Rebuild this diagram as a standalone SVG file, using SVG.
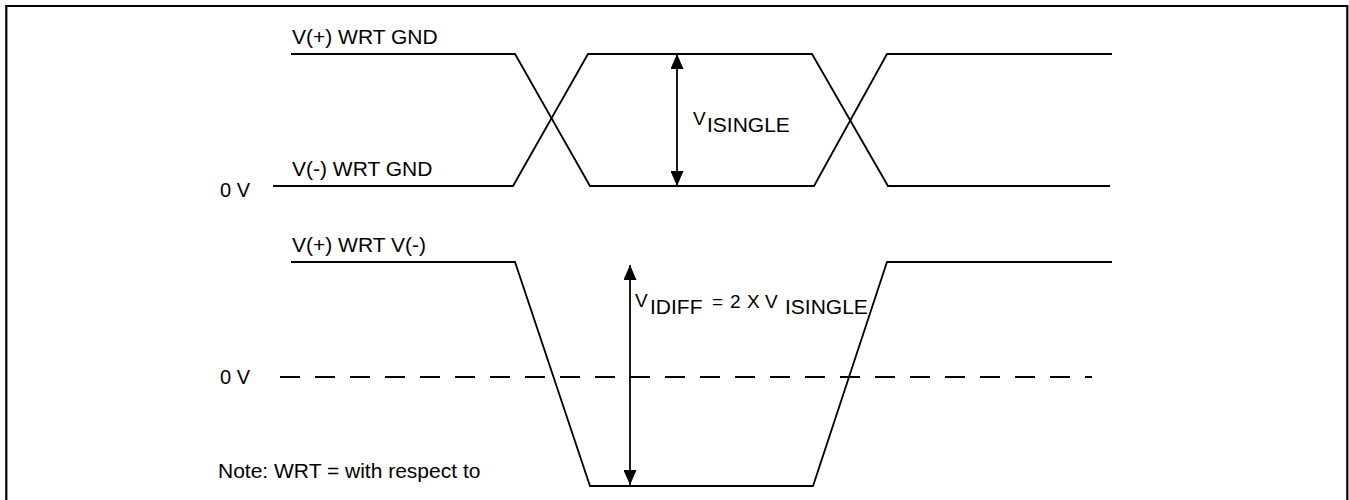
<svg xmlns="http://www.w3.org/2000/svg" width="1349" height="500" viewBox="0 0 1349 500">
<style>
.w{fill:none;stroke:#000;stroke-width:1.8;stroke-linejoin:miter}
.t{font-family:"Liberation Sans",Arial,sans-serif;fill:#000;font-size:21px}
.dash{fill:none;stroke:#000;stroke-width:1.8;stroke-dasharray:20 15}
.arr{fill:none;stroke:#000;stroke-width:1.8;marker-start:url(#ah);marker-end:url(#ah)}
</style>
<defs>
<marker id="ah" viewBox="0 0 15 13" refX="15" refY="6.5" markerWidth="15" markerHeight="13" markerUnits="userSpaceOnUse" orient="auto-start-reverse">
<path d="M0,0 L15,6.5 L0,13 Z" fill="#000"/>
</marker>
</defs>
<rect width="1349" height="500" fill="#fff"/>
<path d="M6.3,500 V6 H1347.3 V500" fill="none" stroke="#000" stroke-width="2.2"/>

<g id="vplus-gnd">
<path class="w" d="M291,54 H515 L590,186 H814 L887,54 H1112"/>
<text class="t" x="292" y="44">V(+) WRT GND</text>
</g>
<g id="vminus-gnd">
<path class="w" d="M273,186 H513 L588,54 H812 L888,186 H1110"/>
<text class="t" x="292" y="176">V(-) WRT GND</text>
<text class="t" x="220" y="197" style="font-size:20px">0 V</text>
</g>
<g id="visingle-label">
<text class="t" x="693" y="125" style="font-size:19px">V</text>
<text class="t" x="707" y="132">ISINGLE</text>
</g>

<g id="vdiff">
<path class="w" d="M291,262 H515 L590,486 H813 L887,262 H1112"/>
<text class="t" x="292" y="252">V(+) WRT V(-)</text>
</g>
<g id="zero-line">
<path class="dash" d="M280,377 H1092"/>
<text class="t" x="220" y="384" style="font-size:20px">0 V</text>
</g>
<g id="vidiff-label">
<text class="t" x="635" y="307" style="font-size:19px">V</text>
<text class="t" x="650" y="314">IDIFF</text>
<text class="t" y="308" style="font-size:19px"><tspan x="712">=</tspan><tspan x="730">2</tspan><tspan x="747">X</tspan><tspan x="765">V</tspan></text>
<text class="t" x="785" y="314">ISINGLE</text>
</g>
<g id="note">
<text class="t" x="218" y="478">Note: WRT = with respect to</text>
</g>

<g id="connectors">
<path class="arr" d="M677,54 V186"/>
<path class="arr" d="M630,265 V485"/>
</g>
</svg>
